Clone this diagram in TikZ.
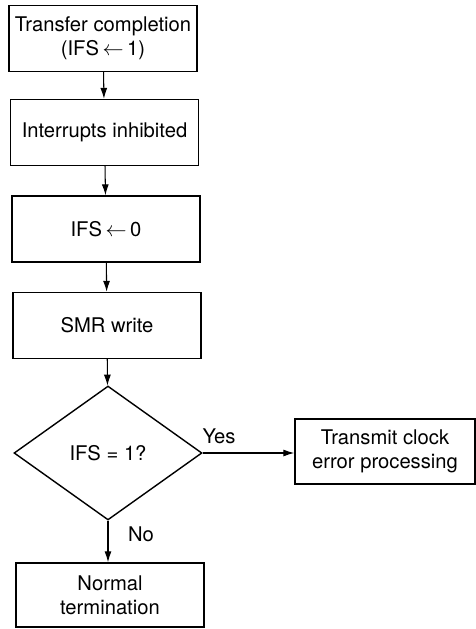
\documentclass[tikz,border=0pt]{standalone}
\usepackage{fontspec}
\setmainfont{TeX Gyre Heros}
\usetikzlibrary{arrows.meta, positioning, shapes.geometric}

\begin{document}
\begin{tikzpicture}[
  x=0.02cm, y=-0.02cm,
  box/.style={rectangle, draw, line width=0.8pt, minimum width=3.76cm,
              minimum height=1.32cm, align=center, font=\fontsize{11.5}{13.5}\selectfont},
  decision/.style={diamond, draw, line width=0.8pt, minimum width=3.76cm,
              minimum height=2.68cm, inner sep=0pt, font=\fontsize{11.5}{13.5}\selectfont},
  arr/.style={-{Latex[length=2.2mm,width=1.4mm]}, line width=0.6pt},
  lbl/.style={font=\fontsize{11.5}{13.5}\selectfont},
]
\useasboundingbox (0,0) rectangle (476,629);
\node[box] (start) at (103,38.5) {Transfer completion\\(IFS$\,\leftarrow\,$1)};
\node[box] (inhibit) at (104.5,132.5) {Interrupts inhibited};
\node[box] (clear) at (106,229) {IFS$\,\leftarrow\,$0};
\node[box] (smr) at (107,325.5) {SMR write};
\node[decision] (test) at (108,453) {IFS = 1?};
\node[box, minimum width=3.6cm, minimum height=1.3cm] (clockerr) at (385,451.5)
  {Transmit clock\\error processing};
\node[box, minimum height=1.28cm] (normal) at (110,595) {Normal\\termination};
\draw[arr] (start) -- (inhibit);
\draw[arr] (inhibit) -- (clear);
\draw[arr] (clear) -- (smr);
\draw[arr] (smr) -- (test);
\draw[arr] (test.east) -- (test.east -| clockerr.west);
\draw[arr] (test.south) -- (test.south |- normal.north);
\node[lbl] (yes) at (219,436) {Yes};
\node[lbl] (no) at (141,534) {No};
\end{tikzpicture}
\end{document}
